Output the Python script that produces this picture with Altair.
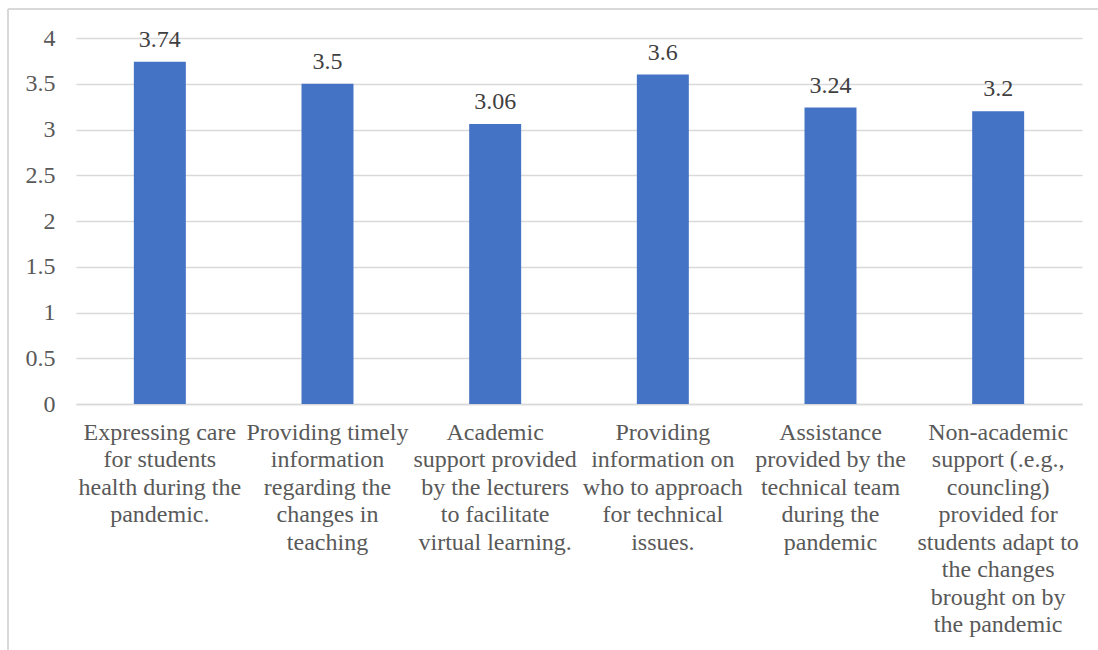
import altair as alt
import pandas as pd

# Survey items (label lines separated by "|") and their mean scores
categories = [
    "Expressing care|for students|health during the|pandemic.",
    "Providing timely|information|regarding the|changes in|teaching",
    "Academic|support provided|by the lecturers|to facilitate|virtual learning.",
    "Providing|information on|who to approach|for technical|issues.",
    "Assistance|provided by the|technical team|during the|pandemic",
    "Non-academic|support (.e.g.,|councling)|provided for|students adapt to|the changes|brought on by|the pandemic",
]
scores = [3.74, 3.5, 3.06, 3.6, 3.24, 3.2]
y_ticks = [0, 0.5, 1, 1.5, 2, 2.5, 3, 3.5, 4]

df = pd.DataFrame({"item": categories, "score": scores})

FONT = "'Times New Roman', 'Liberation Serif', 'DejaVu Serif', serif"
GRID = "#D9D9D9"
PLOT_W, PLOT_H = 1006, 366
PAD_L, PAD_T = 76, 38

x_enc = alt.X(
    "item:N",
    sort=categories,
    scale=alt.Scale(paddingInner=0.69, paddingOuter=0.345),
    axis=alt.Axis(
        title=None,
        labelAngle=0,
        labelExpr="split(datum.label, '|')",
        labelLineHeight=27.5,
        labelLimit=300,
        labelPadding=16,
        labelFontSize=24,
        labelFont=FONT,
        labelColor="#595959",
        ticks=False,
        domainColor=GRID,
        domainWidth=1.5,
    ),
)
y_enc = alt.Y(
    "score:Q",
    scale=alt.Scale(domain=[0, 4], nice=False),
    axis=alt.Axis(
        title=None,
        values=y_ticks,
        labelExpr="format(datum.value, '~g')",
        labelFontSize=24,
        labelFont=FONT,
        labelColor="#595959",
        labelPadding=21,
        ticks=False,
        domain=False,
        gridColor=GRID,
        gridWidth=1.5,
    ),
)

bars = alt.Chart(df).mark_bar(color="#4472C4").encode(x=x_enc, y=y_enc)

labels = alt.Chart(df).mark_text(
    dy=-15, baseline="alphabetic", fontSize=24, font=FONT, color="#404040"
).encode(
    x=alt.X("item:N", sort=categories),
    y="score:Q",
    text=alt.Text("score:Q", format="~g"),
)

# Light frame around the whole chart (left and top edges)
frame_left = alt.Chart(df).mark_rule(color=GRID, strokeWidth=1.5).encode(
    x=alt.value(8 - PAD_L), y=alt.value(9 - PAD_T), y2=alt.value(650 - PAD_T)
)
frame_top = alt.Chart(df).mark_rule(color=GRID, strokeWidth=1.5).encode(
    x=alt.value(8 - PAD_L), x2=alt.value(1098 - PAD_L), y=alt.value(9 - PAD_T)
)

chart = (
    alt.layer(bars, labels, frame_left, frame_top)
    .properties(
        width=PLOT_W,
        height=PLOT_H,
        autosize=alt.AutoSizeParams(type="none"),
        padding={"left": PAD_L, "top": PAD_T, "right": 1098 - PAD_L - PLOT_W, "bottom": 650 - PAD_T - PLOT_H},
        background="white",
    )
    .configure_view(stroke=None)
)

chart.save("out.html", embed_options={"renderer": "svg", "actions": False})
